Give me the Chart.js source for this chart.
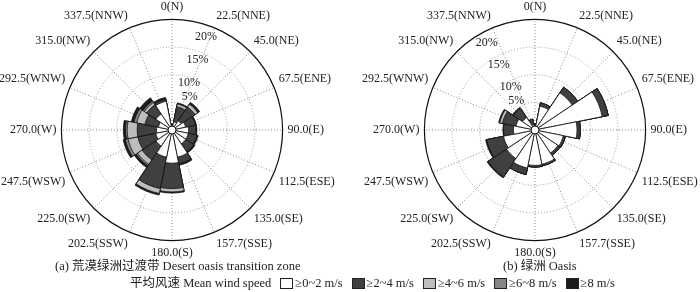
<!DOCTYPE html>
<html><head><meta charset="utf-8">
<script src="https://cdn.jsdelivr.net/npm/chart.js@4.4.1/dist/chart.umd.min.js"></script>
<style>
html,body{margin:0;padding:0;background:#fff;width:700px;height:292px;overflow:hidden;position:relative;font-family:'Liberation Serif','Noto Sans CJK SC',serif;color:#222;}
#c1{position:absolute;left:-14px;top:0;}
#c2{position:absolute;left:349px;top:0;}
.cap{position:absolute;top:259px;font-size:12.5px;white-space:nowrap;line-height:14px;}
#capA{left:55px;}
#capB{left:503px;}
#legend{position:absolute;top:276px;left:130px;font-size:12.5px;display:flex;align-items:center;white-space:nowrap;line-height:14px;}
.sw{display:inline-block;width:11px;height:9px;border:1px solid #222;margin:0 2px 0 9px;}
</style></head>
<body>
<canvas id="c1" width="364" height="261"></canvas>
<canvas id="c2" width="364" height="261"></canvas>
<div class="cap" id="capA">(a) 荒漠绿洲过渡带 Desert oasis transition zone</div>
<div class="cap" id="capB">(b) 绿洲 Oasis</div>
<div id="legend"><span>平均风速 Mean wind speed</span></div>
<script>
const directions = ['0(N)','22.5(NNE)','45.0(NE)','67.5(ENE)','90.0(E)','112.5(ESE)','135.0(SE)','157.7(SSE)',
  '180.0(S)','202.5(SSW)','225.0(SW)','247.5(WSW)','270.0(W)','292.5(WNW)','315.0(NW)','337.5(NNW)'];
const tickValues = [5, 10, 15, 20];
const tickLabels = ['5%', '10%', '15%', '20%'];
const bandLabels = ['≥0~2 m/s', '≥2~4 m/s', '≥4~6 m/s', '≥6~8 m/s', '≥8 m/s'];

// (a) Desert oasis transition zone, frequency % per direction
const transition_0_2 = [0.5, 1.5, 2.0, 2.5, 3.0, 3.0, 3.0, 5.0, 6.0, 5.0, 3.5, 3.0, 2.8, 2.5, 3.5, 5.3];
const transition_2_4 = [0.5, 2.8, 3.0, 1.8, 1.3, 1.6, 1.7, 1.2, 4.6, 5.8, 3.0, 3.3, 3.5, 2.5, 2.0, 0.4];
const transition_4_6 = [0.0, 0.5, 0.6, 0.0, 0.0, 0.0, 0.0, 0.0, 0.6, 0.9, 1.0, 1.8, 1.8, 1.5, 0.5, 0.0];
const transition_6_8 = [0.0, 0.0, 0.1, 0.0, 0.0, 0.0, 0.0, 0.0, 0.0, 0.1, 0.3, 0.5, 0.3, 0.5, 0.3, 0.0];
const transition_8   = [0.0, 0.2, 0.3, 0.2, 0.2, 0.2, 0.3, 0.3, 0.2, 0.2, 0.4, 0.4, 0.4, 0.5, 0.7, 0.3];

// (b) Oasis
const oasis_0_2 = [0.6, 4.4, 8.1, 12.4, 7.6, 5.2, 5.0, 6.3, 6.4, 7.0, 6.2, 5.8, 3.9, 3.5, 2.7, 1.0];
const oasis_2_4 = [0.5, 0.6, 1.2, 1.1, 0.6, 0.4, 0.5, 0.3, 0.3, 1.2, 4.0, 3.1, 1.8, 2.5, 2.0, 1.0];
const oasis_4_6 = [0.0, 0.0, 0.0, 0.0, 0.0, 0.0, 0.0, 0.0, 0.0, 0.0, 0.0, 0.0, 0.0, 0.5, 0.0, 0.0];
const oasis_6_8 = [0.0, 0.0, 0.0, 0.0, 0.0, 0.0, 0.0, 0.0, 0.0, 0.0, 0.0, 0.0, 0.0, 0.0, 0.0, 0.0];
const oasis_8   = [0.0, 0.0, 0.0, 0.0, 0.0, 0.0, 0.0, 0.0, 0.0, 0.0, 0.2, 0.2, 0.1, 0.2, 0.2, 0.0];

const bandColors = ['#ffffff', '#404040', '#bdbdbd', '#868686', '#1c1c1c'];

function cumulative(bands) {
  const out = [];
  let acc = new Array(directions.length).fill(0);
  bands.forEach(b => { acc = acc.map((v, i) => v + b[i]); out.push(acc.slice()); });
  return out;
}

const spokes = {
  id: 'spokes',
  beforeDatasetsDraw(chart) {
    const s = chart.scales.r, ctx = chart.ctx;
    const outer = s.getDistanceFromCenterForValue(s.max);
    ctx.save();
    ctx.strokeStyle = '#8a8a8a'; ctx.lineWidth = 1; ctx.setLineDash([1, 2]);
    for (let i = 0; i < directions.length; i++) {
      const p = s.getPointPosition(i, outer, Math.PI / directions.length);
      ctx.beginPath(); ctx.moveTo(s.xCenter, s.yCenter); ctx.lineTo(p.x, p.y); ctx.stroke();
    }
    ctx.restore();
  }
};

const hubAndTicks = {
  id: 'hubAndTicks',
  afterDatasetsDraw(chart, args, opts) {
    const s = chart.scales.r, ctx = chart.ctx;
    ctx.save();
    ctx.beginPath(); ctx.arc(s.xCenter, s.yCenter, 4, 0, Math.PI * 2);
    ctx.fillStyle = '#fff'; ctx.fill(); ctx.strokeStyle = '#111'; ctx.lineWidth = 1; ctx.setLineDash([]); ctx.stroke();
    ctx.font = '12px "Liberation Serif"'; ctx.fillStyle = '#222'; ctx.textAlign = 'center'; ctx.textBaseline = 'middle';
    tickValues.forEach((v, k) => {
      const d = s.getDistanceFromCenterForValue(v);
      const r = v === 5 ? d + opts.first : d * 0.9;
      const a = (opts.angle + (v === 5 ? opts.firstTurn : 0)) * Math.PI / 180;
      ctx.fillText(tickLabels[k], s.xCenter + r * Math.sin(a), s.yCenter - r * Math.cos(a));
    });
    ctx.restore();
  }
};

function makeChart(id, bands, tickOpts) {
  const cum = cumulative(bands);
  return new Chart(document.getElementById(id), {
    type: 'polarArea',
    data: {
      labels: directions,
      datasets: cum.map((d, k) => ({
        label: bandLabels[k], data: d, backgroundColor: bandColors[k],
        borderColor: '#111', borderWidth: 0.8
      }))
    },
    options: {
      responsive: false, animation: false,
      layout: { padding: 0 },
      plugins: { legend: { display: false }, tooltip: { enabled: false }, hubAndTicks: tickOpts },
      scales: {
        r: {
          min: 0, max: 20, startAngle: -11.25,
          ticks: { display: false, stepSize: 5 },
          grid: {
            circular: true,
            color: c => (c.tick && c.tick.value === 20) ? '#111' : '#9a9a9a',
            lineWidth: c => (c.tick && c.tick.value === 20) ? 1.2 : 1
          },
          border: { dash: c => (c.tick && c.tick.value === 20) ? [] : [1, 2] },
          angleLines: { display: false },
          pointLabels: {
            display: true, centerPointLabels: true, padding: 5, color: '#222',
            font: { family: 'Liberation Serif', size: 12 }
          }
        }
      }
    },
    plugins: [spokes, hubAndTicks]
  });
}

makeChart('c1', [transition_0_2, transition_2_4, transition_4_6, transition_6_8, transition_8],
  { angle: 20, first: 10, firstTurn: 8 });
makeChart('c2', [oasis_0_2, oasis_2_4, oasis_4_6, oasis_6_8, oasis_8],
  { angle: -29, first: 7, firstTurn: -4 });

const legend = document.getElementById('legend');
bandLabels.forEach((t, k) => {
  const sw = document.createElement('span'); sw.className = 'sw'; sw.style.background = bandColors[k];
  const tx = document.createElement('span'); tx.textContent = t;
  legend.appendChild(sw); legend.appendChild(tx);
});
</script>
</body></html>
